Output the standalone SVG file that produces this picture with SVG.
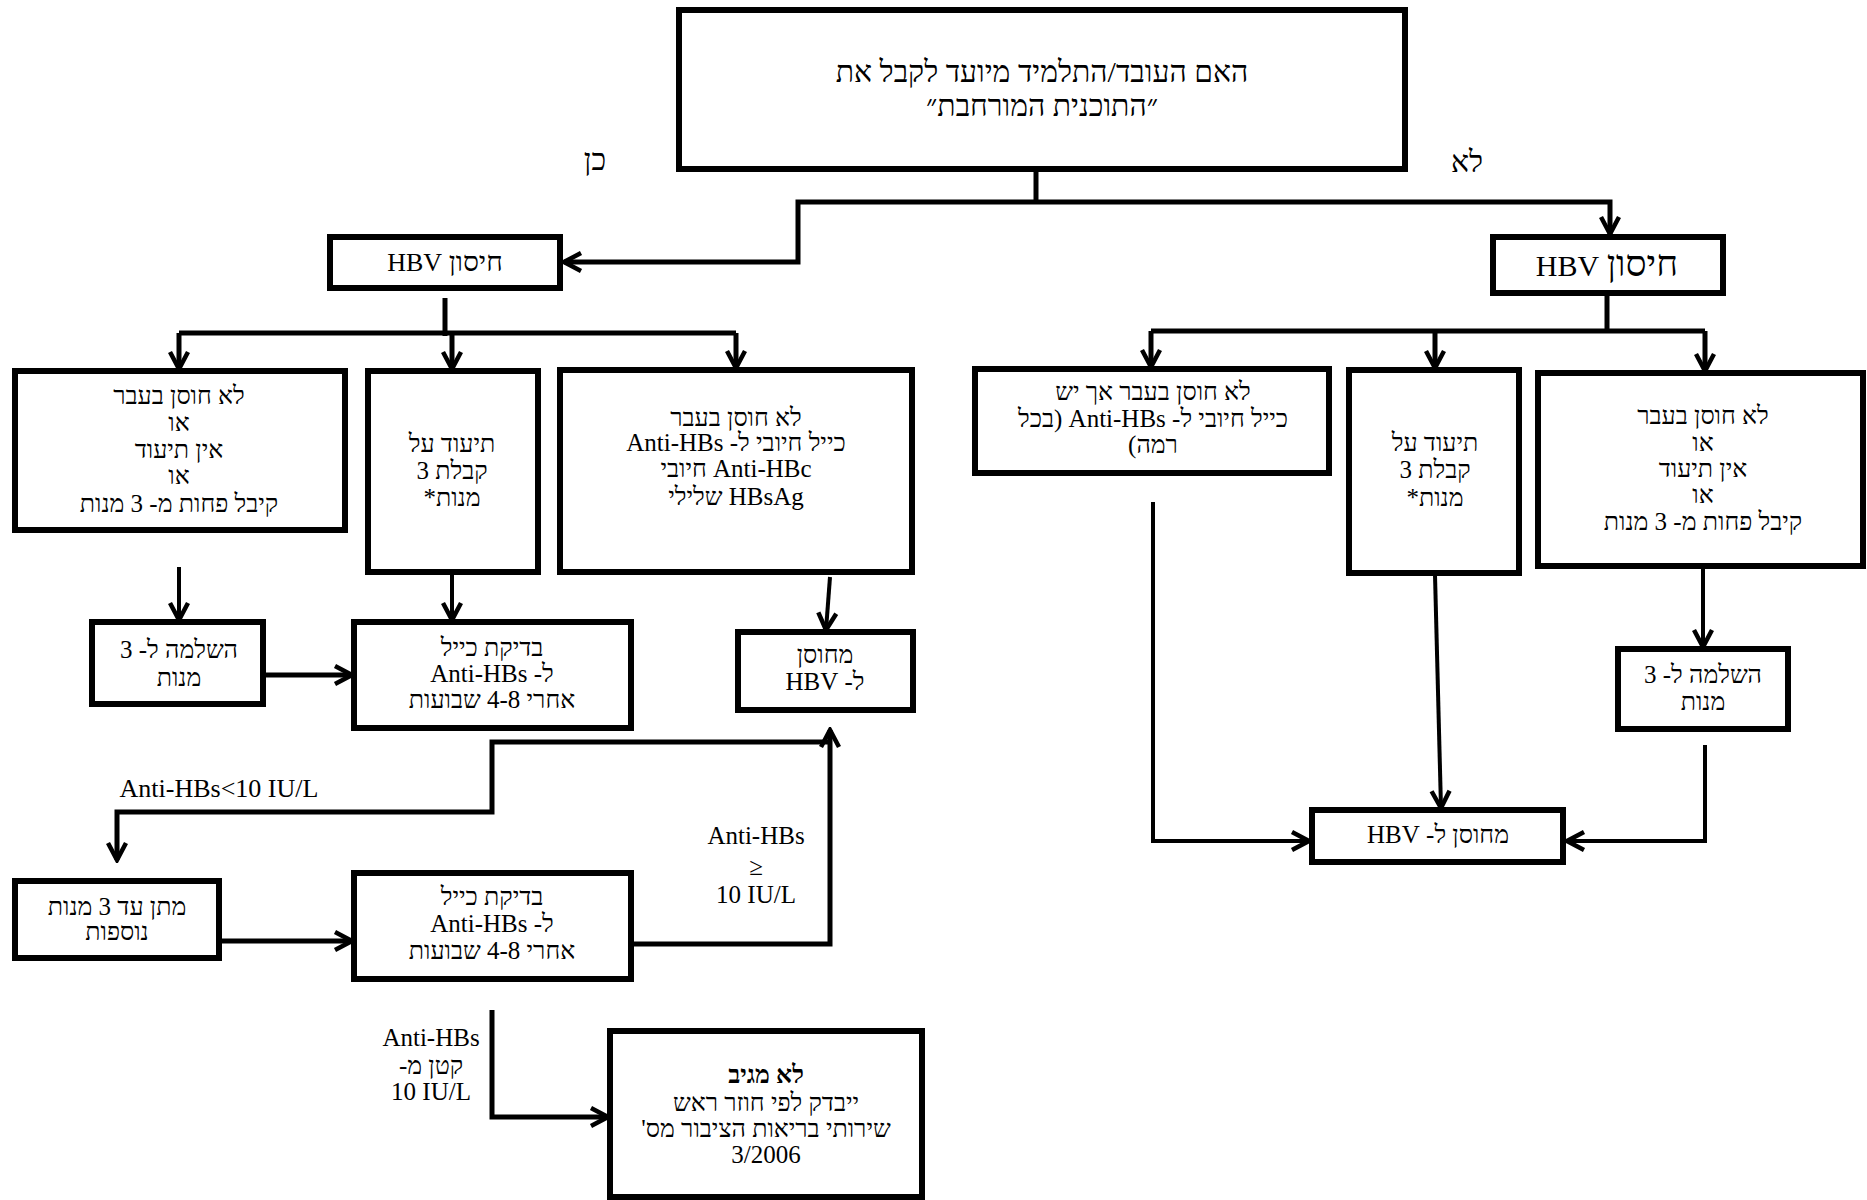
<svg xmlns="http://www.w3.org/2000/svg" width="1867" height="1200" viewBox="0 0 1867 1200">
<defs>
<style>
.box{fill:#fff;stroke:#000;stroke-width:6}
.c{fill:none;stroke:#000;stroke-width:5}
.cn{fill:none;stroke:#000;stroke-width:4}
.t{font-family:"Liberation Serif","DejaVu Serif",serif;font-size:25px;text-anchor:middle;fill:#000}
.r{direction:rtl}
.b{font-weight:bold}
</style>
<marker id="ah" viewBox="0 0 24 24" refX="21" refY="12" markerWidth="24" markerHeight="24" markerUnits="userSpaceOnUse" orient="auto">
<path d="M4,3 L21,12 L4,21" fill="none" stroke="#000" stroke-width="4.5" stroke-linejoin="miter"/>
</marker>
</defs>
<rect width="1867" height="1200" fill="#fff"/>

<g id="connectors">
<path class="c" d="M1036,169 V202"/>
<path class="c" d="M1036,202 H798 V262 H564" marker-end="url(#ah)"/>
<path class="c" d="M1036,202 H1610 V234" marker-end="url(#ah)"/>
<path class="c" d="M445,298 V336"/>
<path class="c" d="M179,333 H736"/>
<path class="c" d="M179,333 V369" marker-end="url(#ah)"/>
<path class="c" d="M452,333 V369" marker-end="url(#ah)"/>
<path class="c" d="M736,333 V368" marker-end="url(#ah)"/>
<path class="cn" d="M179,567 V620" marker-end="url(#ah)"/>
<path class="cn" d="M452,574 V620" marker-end="url(#ah)"/>
<path class="cn" d="M830,577 L826,630" marker-end="url(#ah)"/>
<path class="c" d="M263,675 H352" marker-end="url(#ah)"/>
<path class="c" d="M631,944 H830 V730" marker-end="url(#ah)"/>
<path class="c" d="M830,742 H492 V812 H117 V860" marker-end="url(#ah)"/>
<path class="c" d="M219,941 H352" marker-end="url(#ah)"/>
<path class="c" d="M492,1010 V1117 H608" marker-end="url(#ah)"/>
<path class="c" d="M1607,293 V331"/>
<path class="c" d="M1151,331 H1705"/>
<path class="c" d="M1151,331 V367" marker-end="url(#ah)"/>
<path class="c" d="M1435,331 V368" marker-end="url(#ah)"/>
<path class="c" d="M1705,331 V371" marker-end="url(#ah)"/>
<path class="cn" d="M1703,566 V647" marker-end="url(#ah)"/>
<path class="cn" d="M1705,745 V841 H1567" marker-end="url(#ah)"/>
<path class="cn" d="M1435,575 L1441,808" marker-end="url(#ah)"/>
<path class="cn" d="M1153,502 V841 H1309" marker-end="url(#ah)"/>
</g>

<g id="labels">
<text class="t r" x="595" y="170" style="font-size:30px">כן</text>
<text class="t r" x="1467" y="172" style="font-size:30px">לא</text>
<text class="t" x="219" y="797" style="font-size:26px">Anti-HBs&lt;10 IU/L</text>
<text class="t" x="756" y="844">Anti-HBs</text>
<text class="t" x="756" y="875">≥</text>
<text class="t" x="756" y="903">10 IU/L</text>
<text class="t" x="431" y="1046">Anti-HBs</text>
<text class="t r" x="431" y="1074">קטן מ-</text>
<text class="t" x="431" y="1100">10 IU/L</text>
</g>

<g id="n-top">
<rect class="box" x="679" y="10" width="726" height="159"/>
<text class="t r" x="1042" y="82" style="font-size:30px">האם העובד/התלמיד מיועד לקבל את</text>
<text class="t r" x="1042" y="116" style="font-size:30px">״התוכנית המורחבת״</text>
</g>

<g id="n-hbv-left">
<rect class="box" x="330" y="237" width="230" height="51"/>
<text class="t r" x="445" y="271" style="font-size:26px"><tspan style="font-size:28px">חיסון</tspan> HBV</text>
</g>

<g id="n-hbv-right">
<rect class="box" x="1493" y="237" width="230" height="56"/>
<text class="t r" x="1607" y="276" style="font-size:30px"><tspan style="font-size:37px">חיסון</tspan> HBV</text>
</g>

<g id="n-a">
<rect class="box" x="15" y="371" width="330" height="159"/>
<text class="t r" x="179" y="404">לא חוסן בעבר</text>
<text class="t r" x="179" y="431">או</text>
<text class="t r" x="179" y="458">אין תיעוד</text>
<text class="t r" x="179" y="484">או</text>
<text class="t r" x="179" y="512">קיבל פחות מ- 3 מנות</text>
</g>

<g id="n-b">
<rect class="box" x="368" y="371" width="170" height="201"/>
<text class="t r" x="452" y="452">תיעוד על</text>
<text class="t r" x="452" y="479">קבלת 3</text>
<text class="t r" x="452" y="506">מנות*</text>
</g>

<g id="n-c">
<rect class="box" x="560" y="370" width="352" height="202"/>
<text class="t r" x="736" y="426">לא חוסן בעבר</text>
<text class="t r" x="736" y="451">כייל חיובי ל- Anti-HBs</text>
<text class="t r" x="736" y="477">Anti-HBc חיובי</text>
<text class="t r" x="736" y="505">HBsAg שלילי</text>
</g>

<g id="n-d">
<rect class="box" x="92" y="622" width="171" height="82"/>
<text class="t r" x="179" y="658">השלמה ל- 3</text>
<text class="t r" x="179" y="686">מנות</text>
</g>

<g id="n-e">
<rect class="box" x="354" y="622" width="277" height="106"/>
<text class="t r" x="492" y="656">בדיקת כייל</text>
<text class="t r" x="492" y="682">ל-  Anti-HBs</text>
<text class="t r" x="492" y="708">אחרי 4-8 שבועות</text>
</g>

<g id="n-f">
<rect class="box" x="738" y="632" width="175" height="78"/>
<text class="t r" x="825" y="663">מחוסן</text>
<text class="t r" x="825" y="690">ל- HBV</text>
</g>

<g id="n-g">
<rect class="box" x="15" y="881" width="204" height="77"/>
<text class="t r" x="117" y="915">מתן עד 3 מנות</text>
<text class="t r" x="117" y="940">נוספות</text>
</g>

<g id="n-h">
<rect class="box" x="354" y="873" width="277" height="106"/>
<text class="t r" x="492" y="905">בדיקת כייל</text>
<text class="t r" x="492" y="932">ל-  Anti-HBs</text>
<text class="t r" x="492" y="959">אחרי 4-8 שבועות</text>
</g>

<g id="n-i">
<rect class="box" x="610" y="1031" width="312" height="166"/>
<text class="t r b" x="766" y="1083">לא מגיב</text>
<text class="t r" x="766" y="1111">ייבדק לפי חוזר ראש</text>
<text class="t r" x="766" y="1137">שירותי בריאות הציבור מס'</text>
<text class="t r" x="766" y="1163">3/2006</text>
</g>

<g id="n-j">
<rect class="box" x="975" y="369" width="354" height="104"/>
<text class="t r" x="1153" y="400">לא חוסן בעבר אך יש</text>
<text class="t r" x="1153" y="427">כייל חיובי ל- Anti-HBs (בכל</text>
<text class="t r" x="1153" y="453">רמה)</text>
</g>

<g id="n-k">
<rect class="box" x="1349" y="370" width="170" height="203"/>
<text class="t r" x="1435" y="451">תיעוד על</text>
<text class="t r" x="1435" y="478">קבלת 3</text>
<text class="t r" x="1435" y="506">מנות*</text>
</g>

<g id="n-l">
<rect class="box" x="1538" y="373" width="325" height="193"/>
<text class="t r" x="1703" y="424">לא חוסן בעבר</text>
<text class="t r" x="1703" y="451">או</text>
<text class="t r" x="1703" y="477">אין תיעוד</text>
<text class="t r" x="1703" y="503">או</text>
<text class="t r" x="1703" y="530">קיבל פחות מ- 3 מנות</text>
</g>

<g id="n-m">
<rect class="box" x="1618" y="649" width="170" height="80"/>
<text class="t r" x="1703" y="683">השלמה ל- 3</text>
<text class="t r" x="1703" y="710">מנות</text>
</g>

<g id="n-n">
<rect class="box" x="1312" y="810" width="251" height="52"/>
<text class="t r" x="1438" y="843">מחוסן ל- HBV</text>
</g>
</svg>
